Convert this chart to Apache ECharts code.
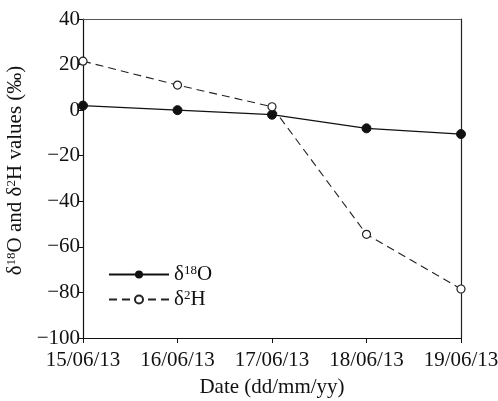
<!DOCTYPE html>
<html><head><meta charset="utf-8">
<script src="https://cdn.jsdelivr.net/npm/echarts@6/dist/echarts.min.js"></script>
<style>html,body{margin:0;padding:0;background:#fff}#c{width:498px;height:401px}</style>
</head><body><div id="c"></div>
<script>
const categories = ['15/06/13','16/06/13','17/06/13','18/06/13','19/06/13'];
const d18O = [2, 0, -2, -8, -10.5];
const d2H = [21.5, 11, 1.5, -54.5, -78.5];
const yTicks = [-100, -80, -60, -40, -20, 0, 20, 40];
const FONT = 'Liberation Serif';
const chart = echarts.init(document.getElementById('c'));
const supRich = {
  n: {fontFamily: FONT, fontSize: 21, color: '#111'},
  s: {fontFamily: FONT, fontSize: 13, color: '#111', verticalAlign: 'top', padding: [0,0,8,0]}
};
chart.setOption({
  animation: false,
  grid: {left: 83, right: 37, top: 19, bottom: 63, containLabel: false, outerBoundsMode: 'none'},
  legend: {
    orient: 'vertical', left: 103, top: 259, itemWidth: 60, itemHeight: 10, itemGap: 4,
    data: ['d18O', 'd2H'],
    formatter: function (n) { return n === 'd18O' ? '{n|δ}{s|18}{n|O}' : '{n|δ}{s|2}{n|H}'; },
    textStyle: {fontFamily: FONT, fontSize: 21, color: '#111', rich: supRich}
  },
  xAxis: [{
    type: 'category', data: categories, boundaryGap: false,
    axisLine: {onZero: false, lineStyle: {color: '#111', width: 1.2}},
    axisTick: {show: true, inside: false, length: 5, interval: 0, lineStyle: {color: '#111'}},
    axisLabel: {fontFamily: FONT, fontSize: 21, color: '#111', margin: 12, interval: 0, hideOverlap: false, showMinLabel: true, showMaxLabel: true},
    name: 'Date (dd/mm/yy)', nameLocation: 'middle', nameGap: 39,
    nameTextStyle: {fontFamily: FONT, fontSize: 21, color: '#111'}
  }, {
    type: 'category', data: categories, boundaryGap: false, position: 'top',
    axisLine: {onZero: false, lineStyle: {color: '#555', width: 1.2}}, axisTick: {show: false}, axisLabel: {show: false}
  }],
  yAxis: [{
    type: 'value', min: -100, max: 40, interval: 20,
    splitLine: {show: false},
    axisLine: {show: true, onZero: false, lineStyle: {color: '#111', width: 1.2}},
    axisTick: {show: true, inside: false, length: 5, lineStyle: {color: '#111'}},
    axisLabel: {fontFamily: FONT, fontSize: 21, color: '#111', margin: 3,
      formatter: function (v) { return String(v).replace('-', '\u2212'); }},
    name: '{n|δ}{s|18}{n|O and δ}{s|2}{n|H values (‰)}', nameLocation: 'middle', nameGap: 47, nameRotate: 90,
    nameTextStyle: {rich: supRich, padding: [0, 0, 0, 16]}
  }, {
    type: 'value', min: -100, max: 40, interval: 20, position: 'right',
    splitLine: {show: false}, axisLine: {show: true, onZero: false, lineStyle: {color: '#222', width: 1.2}},
    axisTick: {show: false}, axisLabel: {show: false}
  }],
  series: [{
    name: 'd18O', type: 'line', data: d18O, symbol: 'circle', symbolSize: 9,
    lineStyle: {color: '#111', width: 1.3}, itemStyle: {color: '#111', borderColor: '#111'}
  }, {
    name: 'd2H', type: 'line', data: d2H, symbol: 'circle', symbolSize: 8,
    lineStyle: {color: '#222', width: 1.1, type: [8, 5]},
    itemStyle: {color: '#fff', borderColor: '#222', borderWidth: 1.2}
  }]
});
</script></body></html>
